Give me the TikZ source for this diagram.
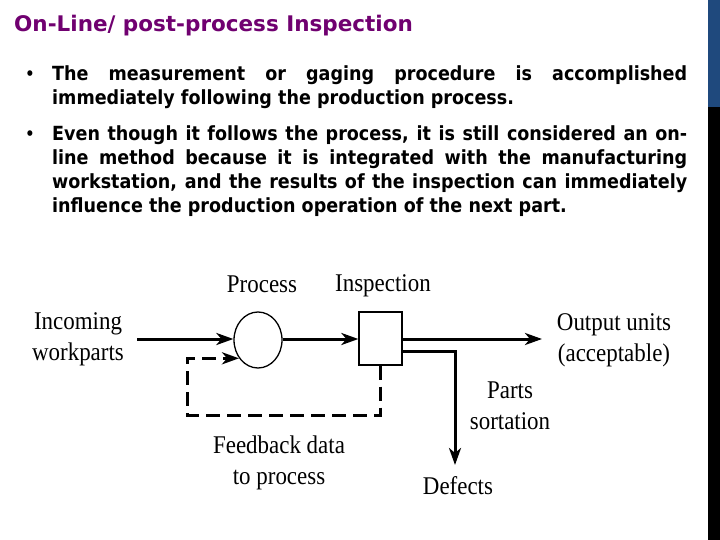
\documentclass[tikz,border=0pt]{standalone}
\usepackage{fontspec}
\setmainfont{Liberation Serif}
\newfontfamily\titlefont{DejaVu Sans}
\newfontfamily\bodyfont[FakeStretch=0.9]{DejaVu Sans}
\newfontfamily\figfont[FakeStretch=0.9]{Liberation Serif}
\usetikzlibrary{arrows.meta,shapes.geometric}
\definecolor{titlepurple}{RGB}{112,0,112}
\definecolor{barblue}{RGB}{31,73,125}
\tikzset{
  bodyline/.style={anchor=base west,inner sep=0pt,font=\bodyfont\bfseries\fontsize{19.5}{24}\selectfont},
  bulletmark/.style={anchor=center,inner sep=0pt,font=\bodyfont\bfseries\fontsize{16}{20}\selectfont},
  figlabel/.style={inner sep=0pt,align=center,font=\figfont\fontsize{25.5}{31}\selectfont},
  conn/.style={line width=3pt,-{Stealth[length=17pt,width=12pt,inset=5pt]}},
  fbconn/.style={conn,dash pattern=on 14pt off 7pt}
}
\begin{document}
\begin{tikzpicture}[x=1pt,y=1pt]
\useasboundingbox (0,0) rectangle (720,-540);
\fill[white] (0,0) rectangle (720,-540);
% right edge bar
\fill[barblue] (708,0) rectangle (720,-107);
\fill[black] (708,-107) rectangle (720,-540);
% title
\node[anchor=base west,inner sep=0pt,text=titlepurple,font=\titlefont\bfseries\fontsize{21.5}{26}\selectfont] (title) at (14,-32) {On-Line/ post-process Inspection};
% bullets
\node[bulletmark] (b1) at (30,-75) {•};
\node[bodyline] (l1) at (52,-81) {\makebox[635pt][s]{The measurement or gaging procedure is accomplished}};
\node[bodyline] (l2) at (52,-105) {immediately following the production process.};
\node[bulletmark] (b2) at (30,-135) {•};
\node[bodyline] (l3) at (52,-141) {\makebox[635pt][s]{Even though it follows the process, it is still considered an on-}};
\node[bodyline] (l4) at (52,-165) {\makebox[635pt][s]{line method because it is integrated with the manufacturing}};
\node[bodyline] (l5) at (52,-189) {\makebox[635pt][s]{workstation, and the results of the inspection can immediately}};
\node[bodyline] (l6) at (52,-213) {in\/fluence the production operation of the next part.};
% diagram nodes
\node[ellipse,draw,line width=1.3pt,minimum width=48pt,minimum height=56pt,inner sep=0pt] (proc) at (258,-340) {};
\node[rectangle,draw,line width=1.3pt,minimum width=43pt,minimum height=53pt,inner sep=0pt] (insp) at (380.5,-338.5) {};
% labels
\node[figlabel,anchor=base] (lproc) at (262,-292) {Process};
\node[figlabel,anchor=base] (linsp) at (383,-291) {Inspection};
\node[figlabel] (linc) at (78,-339) {Incoming\\workparts};
\node[figlabel] (lout) at (614,-340) {Output units\\(acceptable)};
\node[figlabel] (lsort) at (510,-406) {Parts\\sortation};
\node[figlabel] (lfb) at (279,-463) {Feedback data\\to process};
\node[figlabel,anchor=base] (ldef) at (458,-494) {Defects};
% coordinates
\coordinate (instart) at (137,-339);
\coordinate (outend) at (542,-339);
\coordinate (sortstart) at (402,-351);
\coordinate (defend) at (455,-465);
\coordinate (fbL) at (187,-415);
% connectors
\draw[conn] (instart) -- (proc.west |- instart);
\draw[conn] (proc.east |- instart) -- (insp.west |- instart);
\draw[conn] (insp.east |- instart) -- (outend);
\draw[conn] (sortstart) -| (defend);
\draw[fbconn] (insp.south) |- (fbL) |- (proc.-136);
\end{tikzpicture}
\end{document}
